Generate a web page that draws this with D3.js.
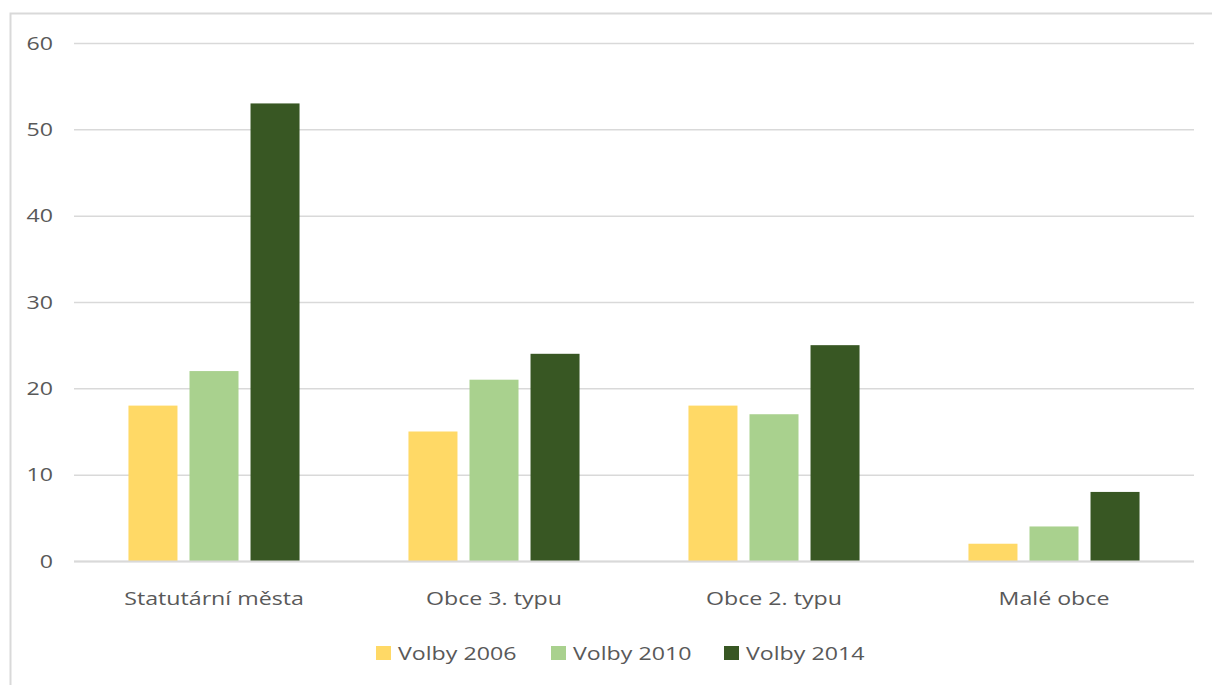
<!DOCTYPE html>
<html>
<head>
<meta charset="utf-8">
<script src="https://cdn.jsdelivr.net/npm/d3@7"></script>
<style>
  body { margin: 0; background: #fff; }
  svg text { font-family: "Open Sans", "Noto Sans", sans-serif; fill: #595959; }
</style>
</head>
<body>
<svg id="chart" width="1212" height="685"></svg>
<script>
// data
var categories = ["Statutární města", "Obce 3. typu", "Obce 2. typu", "Malé obce"];
var seriesNames = ["Volby 2006", "Volby 2010", "Volby 2014"];
var volby2006 = [18, 15, 18, 2];
var volby2010 = [22, 21, 17, 4];
var volby2014 = [53, 24, 25, 8];
var yTicks = [0, 10, 20, 30, 40, 50, 60];
var colors = ["#FFD966", "#A9D18E", "#385723"];

var series = [volby2006, volby2010, volby2014];

var svg = d3.select("#chart");
var stretch = 1.22; // text in the picture is drawn a bit wide

// chart border
svg.append("rect")
    .attr("x", 10.5).attr("y", 13.5)
    .attr("width", 1230).attr("height", 700)
    .attr("fill", "none")
    .attr("stroke", "#D9D9D9")
    .attr("stroke-width", 2);

var pLeft = 74, pRight = 1194, pTop = 43, pBottom = 561;

var y = d3.scaleLinear().domain([0, 60]).range([pBottom, pTop]);
var x0 = d3.scaleBand().domain(categories).range([pLeft, pRight])
    .paddingInner(0.389).paddingOuter(0.1945);
var x1 = d3.scaleBand().domain(seriesNames).range([0, x0.bandwidth()])
    .paddingInner(0.197).paddingOuter(0);

// gridlines + tick labels
var yAxis = d3.axisLeft(y).tickValues(yTicks).tickSize(-(pRight - pLeft)).tickPadding(0);
var ga = svg.append("g").attr("transform", "translate(" + pLeft + ",0)").call(yAxis);
ga.select(".domain").remove();
ga.selectAll(".tick line").attr("stroke", "#D9D9D9").attr("stroke-width", 1.5);
ga.selectAll(".tick text")
    .attr("x", 0)
    .attr("font-size", 19).attr("fill", "#595959")
    .attr("transform", "translate(-21,0) scale(" + stretch + ",1)");

// bars
var groups = svg.selectAll(".grp").data(categories).enter().append("g")
    .attr("transform", function (d) { return "translate(" + x0(d) + ",0)"; });

groups.selectAll("rect").data(function (c, i) {
    return series.map(function (s, k) { return { name: seriesNames[k], value: s[i], k: k }; });
}).enter().append("rect")
    .attr("x", function (d) { return x1(d.name); })
    .attr("y", function (d) { return y(d.value); })
    .attr("width", x1.bandwidth())
    .attr("height", function (d) { return pBottom - y(d.value); })
    .attr("fill", function (d) { return colors[d.k]; });

// x axis line
svg.append("line")
    .attr("x1", pLeft).attr("x2", pRight)
    .attr("y1", pBottom + 0.5).attr("y2", pBottom + 0.5)
    .attr("stroke", "#D9D9D9").attr("stroke-width", 2);

// category labels
svg.selectAll(".cat").data(categories).enter().append("text")
    .attr("transform", function (d) {
        return "translate(" + (x0(d) + x0.bandwidth() / 2) + ",605) scale(" + stretch + ",1)";
    })
    .attr("text-anchor", "middle")
    .attr("font-size", 19)
    .text(function (d) { return d; });

// legend
var legX = [376, 551, 724];
var leg = svg.selectAll(".leg").data(seriesNames).enter().append("g")
    .attr("transform", function (d, i) { return "translate(" + legX[i] + ",646)"; });
leg.append("rect").attr("width", 15).attr("height", 14)
    .attr("fill", function (d, i) { return colors[i]; });
leg.append("text")
    .attr("transform", "translate(22,14) scale(" + stretch + ",1)")
    .attr("font-size", 19)
    .text(function (d) { return d; });
</script>
</body>
</html>
